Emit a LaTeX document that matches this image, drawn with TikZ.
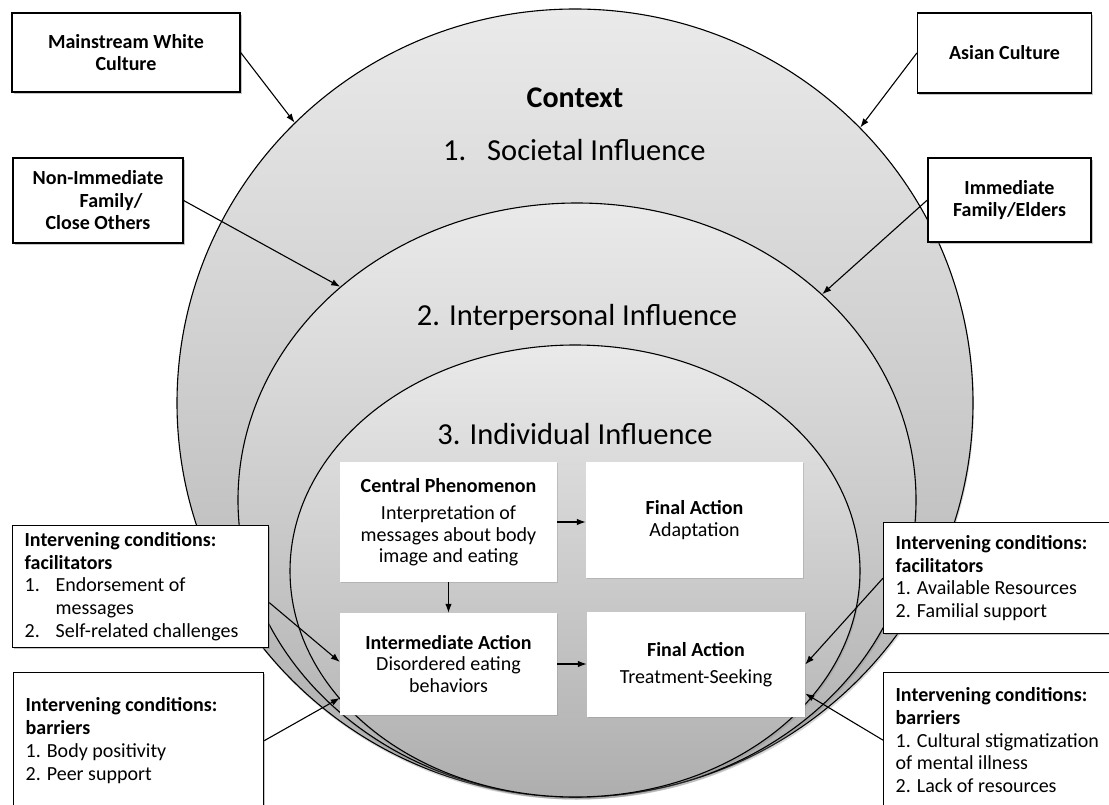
\documentclass[tikz,border=0pt]{standalone}
\usepackage{fontspec}
\setmainfont{Carlito}
\usetikzlibrary{shapes.geometric,shadows,arrows.meta}
\definecolor{ringtop}{RGB}{234,234,234}
\definecolor{ringbot}{RGB}{174,174,174}
\newcommand{\lnum}[1]{\makebox[31pt][l]{#1}}
\begin{document}
\begin{tikzpicture}[x=1pt,y=-1pt,
  ring/.style={ellipse, draw=black, line width=1.1pt, top color=ringtop, bottom color=ringbot,
    drop shadow={shadow xshift=1pt, shadow yshift=-2.5pt, opacity=0.3}, inner sep=0pt},
  labbox/.style={draw=black, line width=1.3pt, fill=white, inner sep=0pt,
    drop shadow={shadow xshift=1.8pt, shadow yshift=-1.8pt, opacity=0.45},
    font=\fontsize{20}{22.8}\selectfont},
  listbox/.style={labbox, align=flush left, anchor=north west, inner xsep=12pt},
  inbox/.style={fill=white, inner sep=0pt, align=flush center,
    drop shadow={shadow xshift=1.2pt, shadow yshift=-1.2pt, opacity=0.3},
    font=\fontsize{20}{21.5}\selectfont},
  arr/.style={-{Latex[length=9pt,width=6.5pt]}, line width=1.1pt},
  ttl/.style={font=\fontsize{30.5}{34}\selectfont}
]
\useasboundingbox[fill=white] (0,0) rectangle (1109,805);

% nested ellipses
\node[ring, minimum width=796, minimum height=788] (outer) at (575,403) {};
\node[ring, minimum width=678, minimum height=594] (middle) at (577,500) {};
\node[ring, minimum width=570, minimum height=452] (inner) at (575,571) {};

% level titles
\node[font=\bfseries\fontsize{30}{34}\selectfont] (ctx) at (575,98) {Context};
\node[ttl, anchor=west, inner sep=0pt] (soc) at (443,150) {\makebox[44pt][l]{1.}Societal Influence};
\node[ttl] (inter-t) at (577,317) {2. Interpersonal Influence};
\node[ttl] (indiv-t) at (575,434) {3. Individual Influence};

% inner boxes
\node[inbox, minimum width=217, minimum height=120] (cent) at (448.5,522)
  {\textbf{Central Phenomenon}\\[6pt]Interpretation of\\messages about body\\image and eating};
\node[inbox, minimum width=217, minimum height=116] (adapt) at (694.5,520)
  {\textbf{Final Action}\\Adaptation};
\node[inbox, minimum width=217, minimum height=102] (interm) at (448.5,664)
  {\textbf{Intermediate Action}\\Disordered eating\\behaviors};
\node[inbox, minimum width=218, minimum height=105] (treat) at (696,664.5)
  {\textbf{Final Action}\\[6pt]Treatment-Seeking};

% outer label boxes
\node[labbox, font=\bfseries\fontsize{20}{21.5}\selectfont, align=flush center, minimum width=228, minimum height=79] (mw) at (126,52.5)
  {Mainstream White\\Culture};
\node[labbox, font=\bfseries\fontsize{20}{21.5}\selectfont, minimum width=174, minimum height=80] (asian) at (1004.5,53)
  {Asian Culture};
\node[labbox, font=\bfseries\fontsize{20}{22.5}\selectfont, align=flush center, minimum width=170, minimum height=85] (nim) at (98,200.5)
  {Non-Immediate\\\hspace*{26pt}Family/\\Close Others};
\node[labbox, font=\bfseries\fontsize{20}{22.5}\selectfont, align=flush center, minimum width=163, minimum height=84] (imm) at (1009.5,200)
  {Immediate\\Family/Elders};

% intervening conditions
\node[listbox, text width=232, minimum height=122] (lfac) at (12,525)
  {\textbf{Intervening conditions:}\\\textbf{facilitators}\\\lnum{1.}Endorsement of\\\hspace*{31pt}messages\\\lnum{2.}Self-related challenges};
\node[listbox, text width=226, minimum height=136] (lbar) at (13,672)
  {\textbf{Intervening conditions:}\\\textbf{barriers}\\1. Body positivity\\2. Peer support};
\node[listbox, text width=216, minimum height=111] (rfac) at (883,522)
  {\textbf{Intervening conditions:}\\\textbf{facilitators}\\1. Available Resources\\2. Familial support};
\node[listbox, text width=216, minimum height=135] (rbar) at (883,672)
  {\textbf{Intervening conditions:}\\\textbf{barriers}\\1. Cultural stigmatization\\of mental illness\\2. Lack of resources};

% connectors
\draw[arr] (mw.east) -- (outer.135.5);
\draw[arr] (asian.west) -- (outer.44.6);
\draw[arr] (nim.east) -- (middle.138.8);
\draw[arr] (imm.west) -- (middle.40.7);
\draw[arr] (cent.east) -- (cent.east -| adapt.west);
\draw[arr] (cent.south) -- (interm.north);
\draw[arr] (interm.east) -- (interm.east -| treat.west);
\draw[arr] ([yshift=-16pt]lfac.east) -- ([yshift=2pt]interm.west);
\draw[arr] (lbar.east) -- ([yshift=-34pt]interm.west);
\draw[arr] (rfac.west) -- (treat.east);
\draw[arr] (rbar.west) -- ([yshift=-29pt]treat.east);
\end{tikzpicture}
\end{document}
